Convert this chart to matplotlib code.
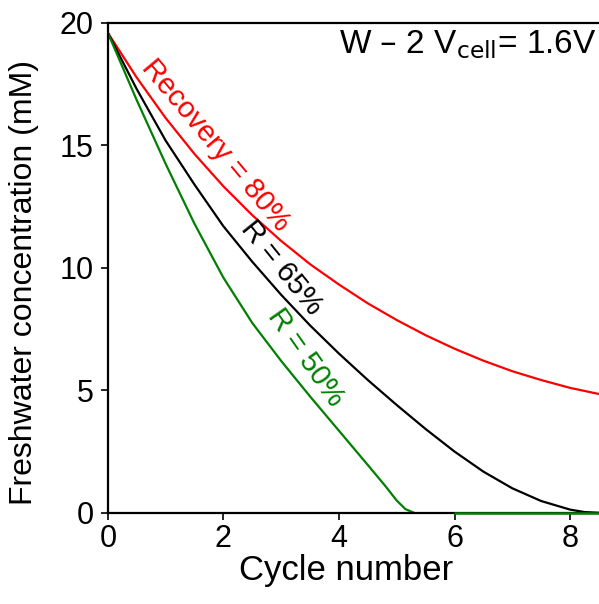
import numpy as np
import matplotlib
matplotlib.use("Agg")
import matplotlib.pyplot as plt

plt.rcParams['font.family'] = ['Liberation Sans', 'DejaVu Sans']

# values
cycle_red = [0, 0.5, 1, 1.5, 2, 2.5, 3, 3.5, 4, 4.5, 5, 5.5, 6, 6.5, 7, 7.5, 8, 8.5]
conc_red = [19.6, 17.77, 16.12, 14.65, 13.33, 12.15, 11.1, 10.15, 9.32, 8.55,
            7.87, 7.25, 6.7, 6.21, 5.78, 5.42, 5.1, 4.85]

cycle_black = [0, 0.5, 1, 1.5, 2, 2.5, 3, 3.5, 4, 4.5, 5, 5.5, 6, 6.5, 7, 7.5, 8, 8.25, 8.5]
conc_black = [19.6, 17.3, 15.2, 13.4, 11.7, 10.25, 8.9, 7.65, 6.5, 5.42, 4.4, 3.42,
              2.5, 1.68, 1.0, 0.48, 0.13, 0.03, 0.0]

cycle_green = [0, 0.5, 1, 1.5, 2, 2.5, 3, 3.5, 4, 4.5, 4.8, 5.0, 5.15, 5.3]
conc_green = [19.6, 16.85, 14.25, 11.8, 9.6, 7.75, 6.2, 4.75, 3.35, 1.95, 1.1, 0.5, 0.15, 0.0]
cycle_green_tail = [6.0, 8.5]
conc_green_tail = [0.0, 0.0]

labels = ["Recovery = 80%", "R = 65%", "R = 50%"]

fig = plt.figure(figsize=(5.99, 6.04), dpi=100)
ax = fig.add_axes([0.180, 0.151, 0.82, 0.811])

ax.plot(cycle_red, conc_red, color="#ff0000", lw=1.6)
ax.plot(cycle_black, conc_black, color="black", lw=1.6)
ax.plot(cycle_green, conc_green, color="#008000", lw=1.6)
ax.plot(cycle_green_tail, conc_green_tail, color="#008000", lw=1.8, zorder=5, clip_on=False)

ax.set_xlim(0, 8.5)
ax.set_ylim(0, 20)
ax.set_xticks([0, 2, 4, 6, 8])
ax.set_yticks([0, 5, 10, 15, 20])
ax.tick_params(direction="out", length=5, width=1.2, labelsize=22)
ax.tick_params(axis="y", pad=5)
ax.tick_params(axis="x", pad=3)
for s in ["left", "bottom", "top"]:
    ax.spines[s].set_linewidth(1.6)
ax.spines["right"].set_visible(False)

ax.set_xlabel("Cycle number", fontsize=25)
ax.xaxis.set_label_coords(0.485, -0.085)
ax.set_ylabel("Freshwater concentration (mM)", fontsize=23)
ax.yaxis.set_label_coords(-0.14, 0.47)

ax.text(0.995, 0.99, r"W – 2 V$_{\mathrm{cell}}$= 1.6V", transform=ax.transAxes,
        ha="right", va="top", fontsize=24)

ax.text(1.87, 15.0, labels[0], color="#ff0000", fontsize=21, rotation=-50,
        ha="center", va="center", rotation_mode="anchor")
ax.text(3.0, 10.0, labels[1], color="black", fontsize=21, rotation=-51,
        ha="center", va="center", rotation_mode="anchor")
ax.text(3.42, 6.35, labels[2], color="#008000", fontsize=21, rotation=-55,
        ha="center", va="center", rotation_mode="anchor")

fig.savefig("out.png", dpi=100)
